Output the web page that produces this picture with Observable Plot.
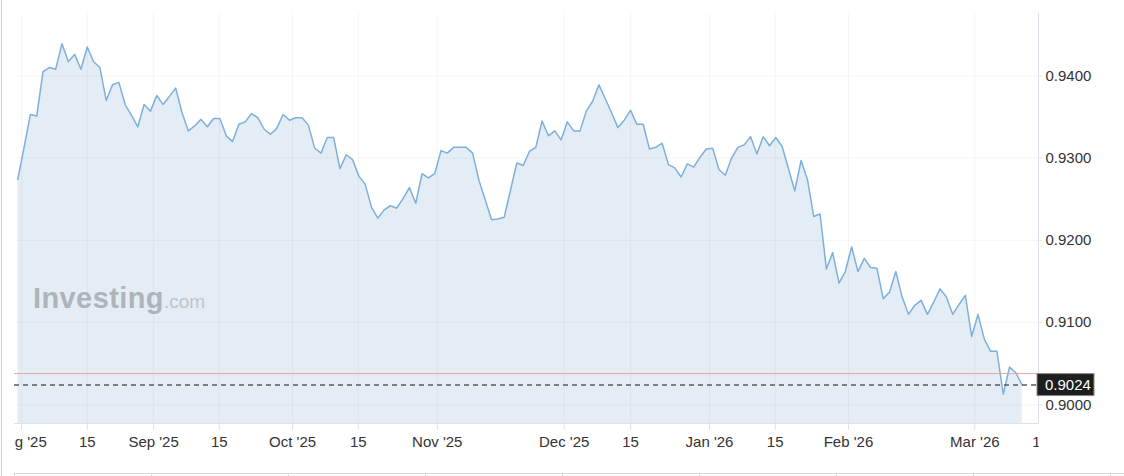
<!DOCTYPE html>
<html>
<head>
<meta charset="utf-8">
<script src="https://cdn.jsdelivr.net/npm/d3@7"></script>
<script src="https://cdn.jsdelivr.net/npm/@observablehq/plot@0.6"></script>
<style>
  html, body { margin: 0; padding: 0; background: #fff; }
  #wrap { position: relative; width: 1124px; height: 476px; overflow: hidden; background: #fff;
          font-family: "Liberation Sans", Arial, sans-serif; }
  #leftline { position: absolute; left: 1px; top: 0; width: 1px; height: 476px; background: #d2d2d2; }
  #chart { position: absolute; left: 0; top: 0; }
  #logo { position: absolute; left: 33px; top: 284px; font-size: 29px; line-height: 29px; font-weight: bold;
          color: #afb4ba; letter-spacing: 0.4px; white-space: nowrap; }
  #logo span { font-size: 19px; font-weight: normal; color: #bfc3c8; letter-spacing: 0; }
  #tabs { position: absolute; left: 14px; top: 473px; display: flex; }
  #tabs div { width: 136px; height: 10px; border-top: 1px solid #d9d9d9; border-left: 1px solid #d9d9d9; }
</style>
</head>
<body>
<div id="wrap">
  <div id="leftline"></div>
  <div id="chart"></div>
  <div id="logo">Investing<span>.com</span></div>
  <div id="tabs"><div></div><div></div><div></div><div></div><div></div><div></div><div></div><div></div><div></div></div>
</div>
<script>
// Daily closes (trading days), Aug 2025 – Mar 2026
const closes = [
  0.9274, 0.9313, 0.9353, 0.9351, 0.9405, 0.9410, 0.9408, 0.9439, 0.9417, 0.9426,
  0.9408, 0.9435, 0.9417, 0.9410, 0.9370, 0.9389, 0.9392, 0.9365, 0.9352, 0.9338,
  0.9365, 0.9357, 0.9376, 0.9365, 0.9375, 0.9385, 0.9355, 0.9333, 0.9339, 0.9347,
  0.9338, 0.9348, 0.9348, 0.9327, 0.9320, 0.9341, 0.9344, 0.9354, 0.9349, 0.9335,
  0.9329, 0.9336, 0.9353, 0.9346, 0.9349, 0.9349, 0.9340, 0.9312, 0.9306, 0.9325,
  0.9325, 0.9287, 0.9304, 0.9298, 0.9278, 0.9268, 0.9240, 0.9227, 0.9237, 0.9242,
  0.9239, 0.9251, 0.9264, 0.9245, 0.9281, 0.9276, 0.9281, 0.9309, 0.9306, 0.9313,
  0.9313, 0.9313, 0.9306, 0.9273, 0.9249, 0.9225, 0.9226, 0.9228, 0.9261, 0.9294,
  0.9291, 0.9308, 0.9313, 0.9345, 0.9327, 0.9333, 0.9322, 0.9344, 0.9333, 0.9333,
  0.9357, 0.9369, 0.9389, 0.9372, 0.9355, 0.9337, 0.9346, 0.9358, 0.9341, 0.9341,
  0.9311, 0.9313, 0.9318, 0.9292, 0.9288, 0.9277, 0.9293, 0.9289, 0.9301, 0.9311,
  0.9312, 0.9286, 0.9279, 0.9300, 0.9313, 0.9316, 0.9326, 0.9305, 0.9326, 0.9315,
  0.9325, 0.9314, 0.9287, 0.9260, 0.9297, 0.9274, 0.9229, 0.9232, 0.9165, 0.9185,
  0.9148, 0.9162, 0.9192, 0.9162, 0.9178, 0.9167, 0.9166, 0.9129, 0.9137, 0.9162,
  0.9131, 0.9110, 0.9121, 0.9127, 0.9110, 0.9125, 0.9141, 0.9131, 0.9110, 0.9122,
  0.9133, 0.9083, 0.9110, 0.9080, 0.9065, 0.9065, 0.9013, 0.9046, 0.9039, 0.9024
];
// x tick positions (in trading-day index units) and their labels
const xTickPos    = [0.6, 11, 21.5, 31.9, 43.5, 53.9, 66.4, 86.5, 97, 109.5, 119.9, 131.5, 151.5, 161.9];
const xTickLabels = ["Aug '25", "15", "Sep '25", "15", "Oct '25", "15", "Nov '25", "Dec '25", "15", "Jan '26", "15", "Feb '26", "Mar '26", "15"];
const yTicks = [0.9000, 0.9100, 0.9200, 0.9300, 0.9400];
const lastPrice = 0.9024;
const refLevel = 0.9038;

const data = closes.map((v, i) => ({i, v}));
const fmt = d3.format(".4f");

const chart = Plot.plot({
  width: 1124,
  height: 462,
  marginLeft: 14,
  marginRight: 86,
  marginTop: 13,
  marginBottom: 39,
  style: {fontFamily: '"Liberation Sans", Arial, sans-serif', fontSize: "15px", background: "transparent", overflow: "visible"},
  x: {domain: [-0.52, 161.58]},
  y: {domain: [0.89773, 0.94757]},
  marks: [
    Plot.areaY(data, {x: "i", y: "v", fill: "#e4edf5", clip: true}),
    Plot.gridY(yTicks, {stroke: "#000", strokeOpacity: 0.04, strokeWidth: 1}),
    Plot.gridX(xTickPos, {stroke: "#000", strokeOpacity: 0.04, strokeWidth: 1}),
    Plot.lineY(data, {x: "i", y: "v", stroke: "#7db0dc", strokeWidth: 1.5}),
    Plot.ruleY([refLevel], {stroke: "#eba4a4", strokeWidth: 1}),
    Plot.ruleY([lastPrice], {stroke: "#5a5a5a", strokeWidth: 1.5, strokeDasharray: "5,4"}),
    Plot.frame({anchor: "right", stroke: "#dde2ea"}),
    Plot.frame({anchor: "bottom", stroke: "#dde2ea"}),
    Plot.axisY(yTicks, {anchor: "right", tickFormat: fmt, tickSize: 3, tickPadding: 4, stroke: "#dde2ea", fill: "#333", label: null}),
    Plot.axisX(xTickPos, {anchor: "bottom", tickFormat: d => xTickLabels[xTickPos.indexOf(d)], tickSize: 7, tickPadding: 6, stroke: "#dde2ea", fill: "#333", label: null})
  ]
});

document.getElementById("chart").appendChild(chart);

// clip x-axis labels, ticks and grid to the plot's horizontal extent
const svg = d3.select(chart);
const [xr0, xr1] = chart.scale("x").range;
svg.append("defs").append("clipPath").attr("id", "xclip")
  .append("rect").attr("x", xr0).attr("y", 0).attr("width", xr1 - xr0).attr("height", 462);
svg.selectAll('g[aria-label="x-axis tick label"], g[aria-label="x-axis tick"], g[aria-label="x-grid"]')
  .attr("clip-path", "url(#xclip)");

// current-price label box on the right axis
const yPix = chart.scale("y").apply(lastPrice);
const box = svg.append("g");
box.append("rect").attr("x", xr1 - 1).attr("y", yPix - 11).attr("width", 57).attr("height", 22)
  .attr("fill", "#1e1e1e").attr("stroke", "#8a8a8a").attr("stroke-width", 1);
box.append("text").attr("x", xr1 + 7).attr("y", yPix).attr("dy", "0.35em")
  .attr("text-anchor", "start").attr("fill", "#fff").attr("font-size", 15).text(fmt(lastPrice));
</script>
</body>
</html>
